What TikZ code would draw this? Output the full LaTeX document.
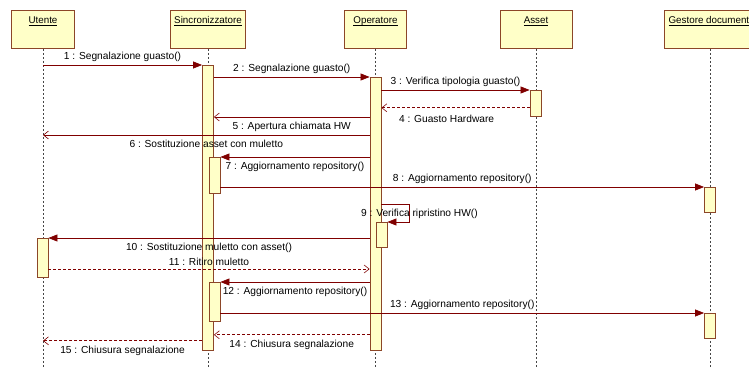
\documentclass[tikz,border=0pt]{standalone}
\usepackage{fontspec}
\setmainfont{Liberation Sans}
\usetikzlibrary{arrows.meta}

\definecolor{boxfill}{RGB}{255,255,200}
\definecolor{objc}{RGB}{140,70,40}
\definecolor{msgc}{RGB}{128,0,0}
\definecolor{lifec}{RGB}{70,70,70}

% underlined name with the underline kept close to the baseline
\newcommand{\objname}[1]{\underline{\raisebox{0pt}[\height][0pt]{#1}}}

\tikzset{
  obj/.style={draw=objc, fill=boxfill, line width=0.8pt, minimum height=38pt,
    anchor=north, inner sep=0pt,
    label={[yshift=-17pt, inner sep=1pt, font=\fontsize{9.8}{11}\selectfont]north:\objname{#1}}},
  actbar/.style={draw=objc, fill=boxfill, line width=0.8pt, minimum width=11pt,
    anchor=north, inner sep=0pt},
  life/.style={draw=lifec, line width=0.8pt, dash pattern=on 2pt off 2pt},
  call/.style={draw=msgc, line width=0.7pt,
    -{Triangle[length=9pt, width=7pt, fill=msgc]}},
  async/.style={draw=msgc, line width=0.7pt,
    -{Straight Barb[length=5pt, width=8pt, line width=0.6pt]}},
  reply/.style={async, dash pattern=on 3pt off 2pt},
  lbl/.style={font=\fontsize{10.2}{12}\selectfont, text=black, inner sep=1pt}
}

\begin{document}
\begin{tikzpicture}[x=1pt, y=-1pt]
\useasboundingbox (0,0) rectangle (749,367);
\fill[white] (0,0) rectangle (749,367);
\coordinate (bottom) at (0,367);

% participants
\node[obj=Utente, minimum width=63pt] (u) at (43,10) {};
\node[obj=Sincronizzatore, minimum width=75pt] (s) at (208,10) {};
\node[obj=Operatore, minimum width=62pt] (o) at (375.5,10) {};
\node[obj=Asset, minimum width=72pt] (a) at (536,10) {};
\node[obj=Gestore documenti, minimum width=92pt] (g) at (710,10) {};

% lifelines
\foreach \p in {u,s,o,a,g}
  \draw[life] (\p.south) -- (\p.south |- bottom);

% activation bars
\node[actbar, minimum height=285pt] (sA) at (208,65) {};
\node[actbar, minimum height=273pt] (oA) at (375.5,77) {};
\node[actbar, minimum height=26pt] (aA) at (535.5,90) {};
\node[actbar, minimum height=36pt] (sB) at (214.5,157) {};
\node[actbar, minimum height=25pt] (gA) at (710,187) {};
\node[actbar, minimum height=25pt] (oB) at (381.5,222) {};
\node[actbar, minimum height=39pt] (uA) at (42.5,238) {};
\node[actbar, minimum height=39pt] (sC) at (214.5,282) {};
\node[actbar, minimum height=25pt] (gB) at (710,313) {};

% heights of the messages that do not start or end at a bar's top
\coordinate (y4) at ([yshift=9pt]aA.south west);
\coordinate (y5) at ([yshift=-40pt]oA.north west);
\coordinate (y6) at ([yshift=-58pt]oA.north west);
\coordinate (y9) at ([yshift=18pt]oB.north);
\coordinate (y11) at ([yshift=-31pt]uA.north east);
\coordinate (y14) at ([yshift=16pt]oA.south west);
\coordinate (y15) at ([yshift=10pt]sA.south west);
\coordinate (loop9) at ([xshift=22pt]oB.north east);
\coordinate (txt9) at ([yshift=8pt]oB.north -| 360,0);

% messages
\draw[call] (u.south |- sA.north) -- (sA.north west)
  node[lbl, midway, above=2pt] {1 : Segnalazione guasto()};
\draw[call] (sA.east |- oA.north) -- (oA.north west)
  node[lbl, midway, above=2pt] {2 : Segnalazione guasto()};
\draw[call] (oA.east |- aA.north) -- (aA.north west)
  node[lbl, midway, above=2pt] {3 : Verifica tipologia guasto()};
\draw[reply] (y4) -- (oA.east |- y4)
  node[lbl, pos=0.56, below=6pt] {4 : Guasto Hardware};
\draw[async] (y5) -- (sA.east |- y5)
  node[lbl, midway, below=4pt] {5 : Apertura chiamata HW};
\draw[async] (y6) -- (u.south |- y6)
  node[lbl, midway, below=4pt] {6 : Sostituzione asset con muletto};
\draw[call] (oA.west |- sB.north) -- (sB.north east)
  node[lbl, midway, below=4pt] {7 : Aggiornamento repository()};
\draw[call] (sB.east |- gA.north) -- (gA.north west)
  node[lbl, midway, above=2pt] {8 : Aggiornamento repository()};
\draw[call] (oA.east |- y9) -| (loop9) -- (oB.north east);
\node[lbl, anchor=west] (m9) at (txt9) {9 : Verifica ripristino HW()};
\draw[call] (oA.west |- uA.north) -- (uA.north east)
  node[lbl, midway, below=4pt] {10 : Sostituzione muletto con asset()};
\draw[reply] (y11) -- (oA.west |- y11)
  node[lbl, midway, above=2pt] {11 : Ritiro muletto};
\draw[call] (oA.west |- sC.north) -- (sC.north east)
  node[lbl, midway, below=4pt] {12 : Aggiornamento repository()};
\draw[call] (sC.east |- gB.north) -- (gB.north west)
  node[lbl, midway, above=2pt] {13 : Aggiornamento repository()};
\draw[reply] (y14) -- (sA.east |- y14)
  node[lbl, midway, below=4pt] {14 : Chiusura segnalazione};
\draw[reply] (y15) -- (u.south |- y15)
  node[lbl, midway, below=4pt] {15 : Chiusura segnalazione};
\end{tikzpicture}
\end{document}
